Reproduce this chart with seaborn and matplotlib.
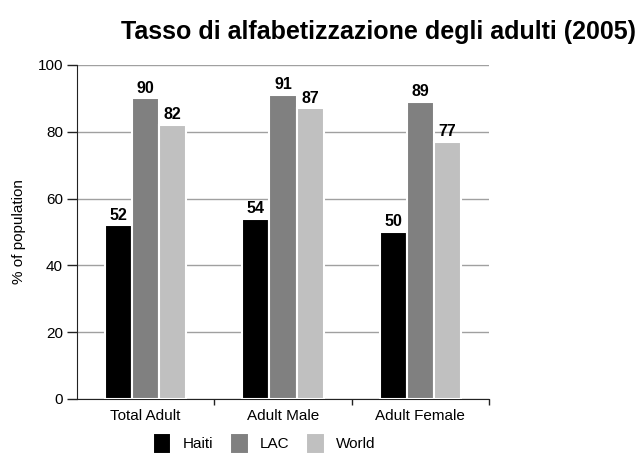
import matplotlib
matplotlib.use("Agg")
import matplotlib.pyplot as plt
import seaborn as sns
import pandas as pd

# ── Data ──────────────────────────────────────────────────────────────────
categories = ["Total Adult", "Adult Male", "Adult Female"]
haiti = [52, 54, 50]
lac   = [90, 91, 89]
world = [82, 87, 77]
series = ["Haiti", "LAC", "World"]
colors = ["#000000", "#808080", "#c0c0c0"]

df = pd.DataFrame({
    "category": categories * 3,
    "value": haiti + lac + world,
    "series": [s for s in series for _ in categories],
})

sns.set_style("white")
plt.rcParams["font.family"] = ["Liberation Sans", "DejaVu Sans"]
plt.rcParams["text.color"] = "black"
plt.rcParams["axes.labelcolor"] = "black"
plt.rcParams["xtick.color"] = "black"
plt.rcParams["ytick.color"] = "black"

fig = plt.figure(figsize=(6.44, 4.54), dpi=100)
ax = fig.add_axes([77 / 644, 1 - 399 / 454, 412 / 644, 334 / 454])

sns.barplot(data=df, x="category", y="value", hue="series",
            palette=colors, width=0.59, edgecolor="white", linewidth=1.5,
            ax=ax, legend=True, zorder=3)

for cont in ax.containers:
    ax.bar_label(cont, fmt="%d", fontsize=11.5, fontweight="bold", padding=2)

ax.set_ylim(0, 100)
ax.set_xlim(-0.5, 2.5)
ax.set_yticks(range(0, 101, 20))
ax.yaxis.grid(True, color="#a0a0a0", linewidth=1.0, zorder=0)
ax.set_axisbelow(True)
ax.spines[["top", "right"]].set_visible(False)
ax.spines["left"].set_color("#222222")
ax.spines["bottom"].set_color("#222222")
ax.tick_params(axis="y", left=True, length=7, width=1, color="#222222",
               labelsize=11, pad=3)
ax.tick_params(axis="x", bottom=False, labelsize=11, pad=4)
# ticks at category boundaries
ax.set_xticks([0.5, 1.5, 2.5], minor=True)
ax.tick_params(axis="x", which="minor", bottom=True, length=4, width=1,
               color="#222222")
ax.set_xlabel("")
ax.set_ylabel("% of population", fontsize=11, labelpad=8)

ax.legend(loc="upper center", bbox_to_anchor=(0.455, -0.07), ncol=3,
          frameon=False, fontsize=11, handlelength=1.2, handleheight=1.7,
          columnspacing=1.1, handletextpad=0.75, borderpad=0.2)

fig.text(378 / 644, 1 - 32 / 454, "Tasso di alfabetizzazione degli adulti (2005)",
         ha="center", va="center", fontsize=18, fontweight="bold")

fig.savefig("out.png", dpi=100)
